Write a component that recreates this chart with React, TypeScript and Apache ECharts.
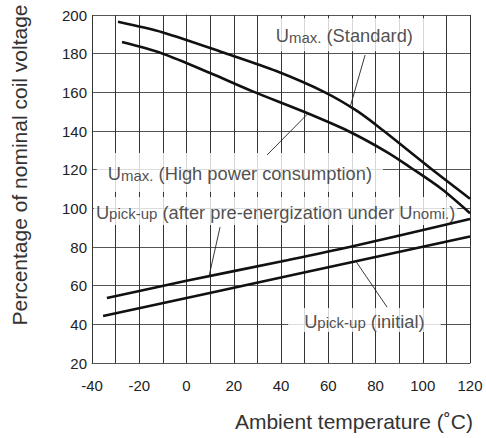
import React, { useEffect, useRef } from "react";
import * as echarts from "echarts";

// Axis ranges / ticks
const xMin = -40;
const xMax = 120;
const xStep = 10;
const yMin = 20;
const yMax = 200;
const yStep = 20;

// Curves: [ambient temperature °C, % of nominal coil voltage]
const umaxStandard: [number, number][] = [
  [-29, 196.5], [-10, 191], [17, 180], [38, 171], [58.6, 160],
  [72, 150.5], [83, 140.5], [103, 121], [120, 105],
];
const umaxHighPower: [number, number][] = [
  [-27.3, 186], [-10, 180], [10, 170], [28, 160.5], [50, 149.8],
  [68.4, 140], [85, 129], [95, 121], [108, 110], [120, 97.5],
];
const upickAfterPre: [number, number][] = [
  [-33.7, 53.6], [0, 62.5], [40, 72.5], [69, 80], [120, 94.5],
];
const upickInitial: [number, number][] = [
  [-35.3, 44.3], [40, 64.2], [120, 85.4],
];

// Leader lines from labels to curves
const leaderStandard: [number, number][] = [[75.6, 179.3], [69.4, 153]];
const leaderHighPower: [number, number][] = [[34.1, 127.6], [51.4, 149]];
const leaderAfterPre: [number, number][] = [[14.2, 90.3], [9.6, 65.2]];
const leaderInitial: [number, number][] = [[71.7, 72.6], [84.9, 48.9]];

// Curve labels: anchor in data coords, rich text, padding [v, h]
const labelAnchors: [number, number][] = [
  [66.8, 189.8],
  [22.6, 118.5],
  [37.7, 98.6],
  [75.3, 42.2],
];
const labelTexts: string[] = [
  "{u|U}{s|max.}{u| (Standard)}",
  "{u|U}{s|max.}{u| (High power consumption)}",
  "{u|U}{s|pick-up}{u| (after pre-energization under U}{s|nomi.}{u|)}",
  "{u|U}{s|pick-up}{u| (initial)}",
];
const labelPaddings: [number, number][] = [
  [6.5, 16.5],
  [9.5, 11],
  [4, 2],
  [2, 16],
];

const xAxisTitle = "Ambient temperature (˚C)";
const yAxisTitle = "Percentage of nominal coil voltage";

const FONT = "'Liberation Sans', Arial, sans-serif";
const TEXT = "#222";
const CURVE = "#111";
const GRID = "#555";

export default function App() {
  const ref = useRef<HTMLDivElement>(null);

  useEffect(() => {
    if (!ref.current) return;
    const chart = echarts.init(ref.current, undefined, { renderer: "svg" });

    const curve = (data: [number, number][]) => ({
      type: "line",
      data,
      smooth: 0.3,
      showSymbol: false,
      symbol: "none",
      z: 3,
      lineStyle: { color: CURVE, width: 2.6 },
      silent: true,
    });
    const leader = (data: [number, number][]) => ({
      type: "line",
      data,
      showSymbol: false,
      symbol: "none",
      z: 3,
      lineStyle: { color: "#222", width: 0.9 },
      silent: true,
    });
    const labelSeries = labelAnchors.map((p, i) => ({
      type: "scatter",
      data: [p],
      symbolSize: 1,
      itemStyle: { color: "rgba(0,0,0,0)" },
      z: 1,
      silent: true,
      label: {
        show: true,
        position: "inside",
        formatter: labelTexts[i],
        backgroundColor: "#ffffff",
        padding: labelPaddings[i],
        rich: {
          u: {
            fontSize: 18.3,
            lineHeight: 20,
            fontFamily: FONT,
            color: TEXT,
            verticalAlign: "bottom",
          },
          s: {
            fontSize: 15,
            lineHeight: 18,
            fontFamily: FONT,
            color: TEXT,
            verticalAlign: "bottom",
          },
        },
      },
    }));

    chart.setOption({
      animation: false,
      backgroundColor: "#ffffff",
      grid: { left: 92, right: 16, top: 15, bottom: 75, containLabel: false },
      xAxis: {
        type: "value",
        min: xMin,
        max: xMax,
        interval: xStep,
        axisLine: { show: true, lineStyle: { color: GRID, width: 1 } },
        axisTick: { show: false },
        splitLine: { show: true, lineStyle: { color: "#333", width: 1 } },
        axisLabel: {
          margin: 15,
          fontSize: 15,
          fontFamily: FONT,
          color: TEXT,
          formatter: (v: number) => (Math.round(v) % 20 === 0 ? String(v) : ""),
        },
      },
      yAxis: {
        type: "value",
        min: yMin,
        max: yMax,
        interval: yStep,
        axisLine: { show: true, lineStyle: { color: "#333", width: 1 } },
        axisTick: { show: false },
        splitLine: { show: true, lineStyle: { color: GRID, width: 1 } },
        axisLabel: {
          margin: 5,
          fontSize: 15,
          fontFamily: FONT,
          color: TEXT,
        },
      },
      graphic: [
        {
          type: "text",
          right: 13,
          top: 411,
          style: {
            text: xAxisTitle,
            fontSize: 21,
            fontFamily: FONT,
            fill: "#333",
          },
        },
        {
          type: "text",
          x: 19,
          y: 165,
          rotation: Math.PI / 2,
          style: {
            text: yAxisTitle,
            fontSize: 21,
            fontFamily: FONT,
            fill: "#333",
            align: "center",
            verticalAlign: "middle",
          },
        },
      ],
      series: [
        curve(umaxStandard),
        curve(umaxHighPower),
        curve(upickAfterPre),
        curve(upickInitial),
        leader(leaderStandard),
        leader(leaderHighPower),
        leader(leaderAfterPre),
        leader(leaderInitial),
        ...labelSeries,
      ],
    });

    return () => chart.dispose();
  }, []);

  return (
    <div
      ref={ref}
      style={{ position: "absolute", left: 0, top: 0, width: 486, height: 438 }}
    />
  );
}
